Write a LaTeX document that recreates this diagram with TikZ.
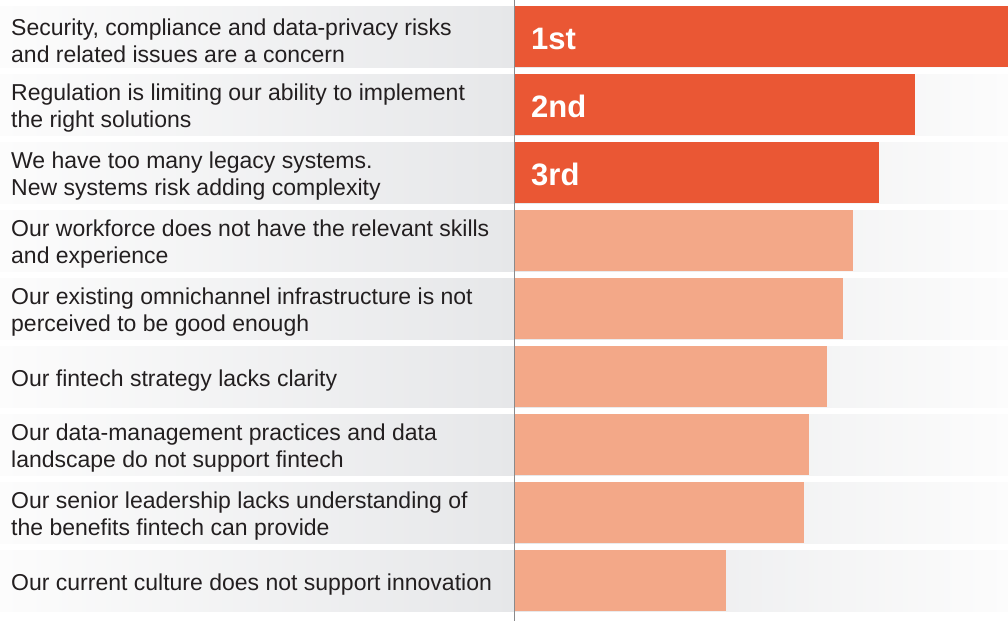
\documentclass[tikz,border=0pt]{standalone}
\usepackage{fontspec}
\setmainfont{Liberation Sans}
\definecolor{barred}{HTML}{EA5734}
\definecolor{barlight}{HTML}{F3A888}
\definecolor{rowgray}{HTML}{E6E7E9}
\definecolor{rowwhite}{HTML}{FCFCFC}
\definecolor{txt}{HTML}{231F20}
\definecolor{axisgray}{HTML}{8A8A8C}
\begin{document}
\begin{tikzpicture}[x=1pt,y=-1pt,
  lbl/.style={anchor=west,align=left,text=txt,font=\fontsize{23}{27}\selectfont,inner sep=0pt},
  rank/.style={anchor=west,text=white,font=\fontsize{31}{31}\selectfont\bfseries,inner sep=0pt},
  axisline/.style={draw=axisgray,line width=1.2pt}]
\useasboundingbox (0,0) rectangle (1008,621);
\foreach \i/\len/\col/\txt in {
  0/1008/barred/{Security, compliance and data-privacy risks\\and related issues are a concern},
  1/915/barred/{Regulation is limiting our ability to implement\\the right solutions},
  2/879/barred/{We have too many legacy systems.\\New systems risk adding complexity},
  3/853/barlight/{Our workforce does not have the relevant skills\\and experience},
  4/843/barlight/{Our existing omnichannel infrastructure is not\\perceived to be good enough},
  5/827/barlight/{Our fintech strategy lacks clarity},
  6/809/barlight/{Our data-management practices and data\\landscape do not support fintech},
  7/804/barlight/{Our senior leadership lacks understanding of\\the benefits fintech can provide},
  8/726/barlight/{Our current culture does not support innovation}}{
  \pgfmathsetmacro{\top}{6+68*\i}
  \pgfmathsetmacro{\bot}{\top+61}
  \shade[left color=rowwhite,right color=rowgray] (0,\top) rectangle (514,\bot);
  \shade[left color=rowgray,right color=rowwhite] (515,\top) rectangle (1008,\bot);
  \fill[\col] (515,\top) rectangle (\len,\bot);
  \node[lbl] (l\i) at (11,{\top+34.5}) {\txt};
}
\node[rank] (r1) at (531,38.5) {1st};
\node[rank] (r2) at (531,106.5) {2nd};
\node[rank] (r3) at (531,174.5) {3rd};
\coordinate (axtop) at (514.5,0);
\coordinate (axbot) at (514.5,621);
\draw[axisline] (axtop) -- (axbot);
\end{tikzpicture}
\end{document}
